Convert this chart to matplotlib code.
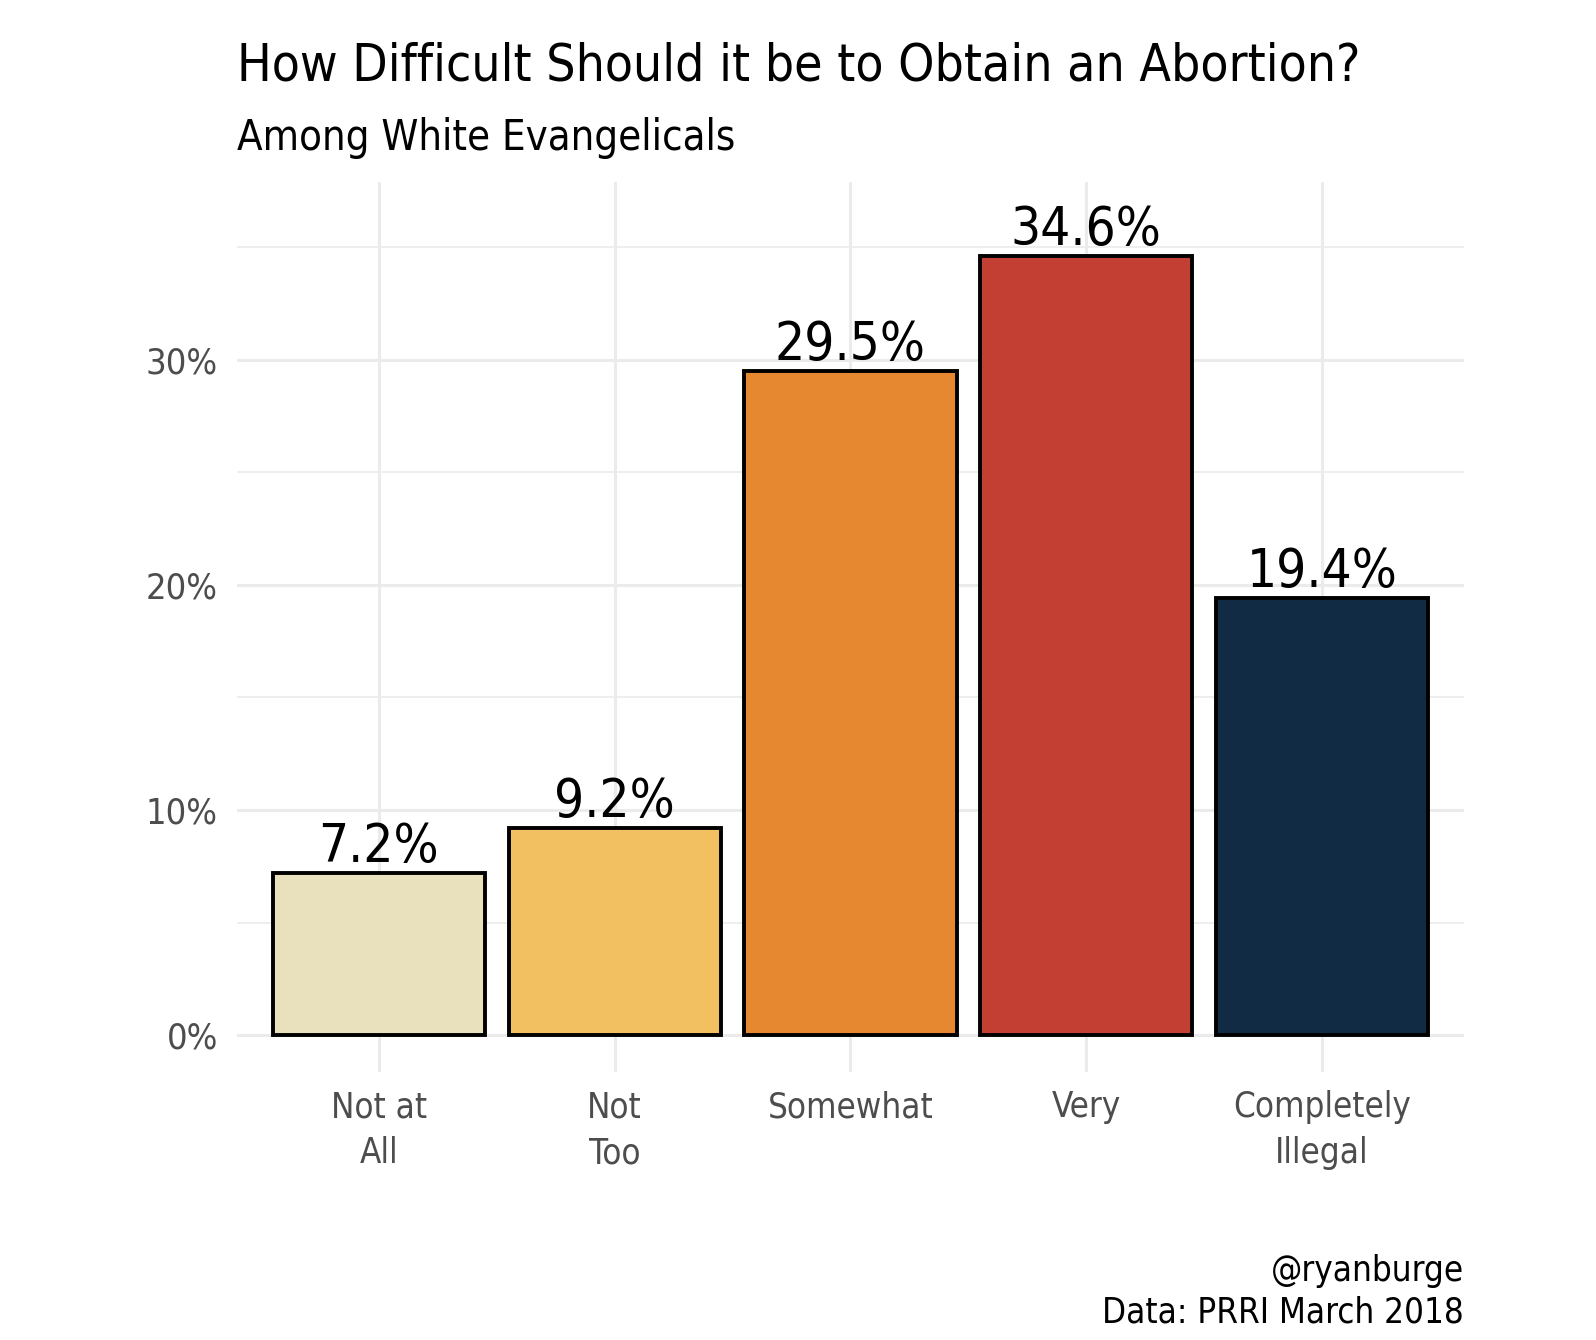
import matplotlib
matplotlib.use("Agg")
import matplotlib.pyplot as plt
from matplotlib.ticker import FixedLocator

categories = ["Not at\nAll", "Not\nToo", "Somewhat", "Very", "Completely\nIllegal"]
values = [7.2, 9.2, 29.5, 34.6, 19.4]
bar_colors = ["#E9E1BD", "#F2C060", "#E6882F", "#C43F33", "#112B45"]
y_ticks = [0, 10, 20, 30]
y_tick_labels = ["0%", "10%", "20%", "30%"]
y_minor = [5, 15, 25, 35]

title = "How Difficult Should it be to Obtain an Abortion?"
subtitle = "Among White Evangelicals"
caption = "@ryanburge\nData: PRRI March 2018"

plt.rcParams["font.family"] = ["DejaVu Sans"]
plt.rcParams["font.stretch"] = "condensed"

L, R, B, T = 0.1487, 0.917, 0.200, 0.864
fig = plt.figure(figsize=(15.96, 13.4), dpi=100)
ax = fig.add_axes([L, B, R - L, T - B])

x = list(range(1, len(categories) + 1))
ax.bar(x, values, width=0.9, color=bar_colors, edgecolor="black", linewidth=2.8, zorder=3)

for xi, v in zip(x, values):
    ax.annotate(f"{v}%", (xi, v), xytext=(0, 8), textcoords="offset points",
                ha="center", va="baseline", fontsize=38, color="black", zorder=4)

ax.set_xlim(0.4, 5.6)
ax.set_ylim(-1.63, 37.87)

ax.set_xticks(x)
ax.set_xticklabels(categories, fontsize=25, color="#4D4D4D", linespacing=1.45)
ax.set_yticks(y_ticks)
ax.set_yticklabels(y_tick_labels, fontsize=26, color="#4D4D4D")
ax.yaxis.set_minor_locator(FixedLocator(y_minor))

ax.tick_params(axis="both", which="both", length=0)
ax.tick_params(axis="x", pad=13)
ax.tick_params(axis="y", pad=14)

ax.grid(True, which="major", axis="both", color="#EBEBEB", linewidth=2.2, zorder=0)
ax.grid(True, which="minor", axis="y", color="#EBEBEB", linewidth=1.2, zorder=0)
ax.set_axisbelow(True)
for s in ax.spines.values():
    s.set_visible(False)

fig.text(L, 0.940, title, fontsize=37, color="black", ha="left", va="baseline")
fig.text(L, 0.888, subtitle, fontsize=30, color="black", ha="left", va="baseline")
fig.text(R, 0.0127, caption, fontsize=25, color="black", ha="right", va="baseline",
         linespacing=1.3, multialignment="right")

fig.savefig("out.png", dpi=100, facecolor="white")
